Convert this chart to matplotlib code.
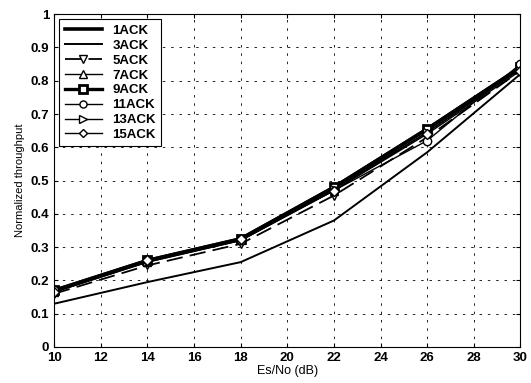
import matplotlib
matplotlib.use("Agg")
import matplotlib.pyplot as plt

# Data
snr = [10, 14, 18, 22, 26, 30]
ack1 = [0.170, 0.260, 0.325, 0.480, 0.655, 0.840]
ack3 = [0.130, 0.195, 0.255, 0.380, 0.585, 0.820]
ack5 = [0.160, 0.245, 0.310, 0.455, 0.630, 0.830]
ack7 = [0.165, 0.255, 0.320, 0.470, 0.645, 0.835]
ack9 = [0.170, 0.260, 0.325, 0.480, 0.655, 0.840]
ack11 = [0.170, 0.260, 0.320, 0.470, 0.620, 0.850]
ack13 = [0.165, 0.255, 0.320, 0.475, 0.645, 0.835]
ack15 = [0.165, 0.260, 0.325, 0.470, 0.640, 0.830]

plt.rcParams['font.family'] = ['Liberation Sans', 'DejaVu Sans']
plt.rcParams['font.weight'] = 'bold'

fig = plt.figure(figsize=(5.31, 3.83), dpi=100)
ax = fig.add_axes([0.102, 0.094, 0.878, 0.869])

mk = dict(markerfacecolor='white', markeredgecolor='black', markersize=6)
ax.plot(snr, ack1, color='black', lw=2.6, label='1ACK')
ax.plot(snr, ack3, color='black', lw=1.4, label='3ACK')
ax.plot(snr, ack5, color='black', lw=1.3, ls=(0, (9, 4)), marker='v', label='5ACK', **mk)
ax.plot(snr, ack7, color='black', lw=1.0, marker='^', label='7ACK', **mk)
ax.plot(snr, ack9, color='black', lw=2.4, marker='s', markeredgewidth=2, label='9ACK',
        markerfacecolor='white', markeredgecolor='black', markersize=6)
ax.plot(snr, ack13, color='black', lw=1.0, marker='>', label='13ACK', **mk)
ax.plot(snr, ack11, color='black', lw=1.0, marker='o', label='11ACK', **mk)
ax.plot(snr, ack15, color='black', lw=1.0, marker='D', label='15ACK',
        markerfacecolor='white', markeredgecolor='black', markersize=5)

ax.set_xlim(10, 30)
ax.set_ylim(0, 1)
ax.set_xticks(range(10, 31, 2))
ax.set_yticks([i / 10 for i in range(11)])
ax.set_yticklabels(['0'] + ['%.1f' % (i / 10) for i in range(1, 10)] + ['1'])
ax.tick_params(direction='in', top=True, right=True, labelsize=9.5, length=3)
ax.grid(True, color='black', ls=(0, (3, 7)), lw=0.6)
ax.set_xlabel('Es/No (dB)', fontsize=9, labelpad=1)
ax.set_ylabel('Normalized throughput', fontsize=8, labelpad=4)

handles, labels = ax.get_legend_handles_labels()
order = ['1ACK', '3ACK', '5ACK', '7ACK', '9ACK', '11ACK', '13ACK', '15ACK']
hmap = dict(zip(labels, handles))
leg = ax.legend([hmap[k] for k in order], order, loc='upper left', fontsize=9.5,
                fancybox=False, edgecolor='black', framealpha=1, handlelength=2.8,
                labelspacing=0.2, borderaxespad=0.4, markerscale=0.85)
leg.get_frame().set_linewidth(0.8)

fig.savefig('out.png', dpi=100)
